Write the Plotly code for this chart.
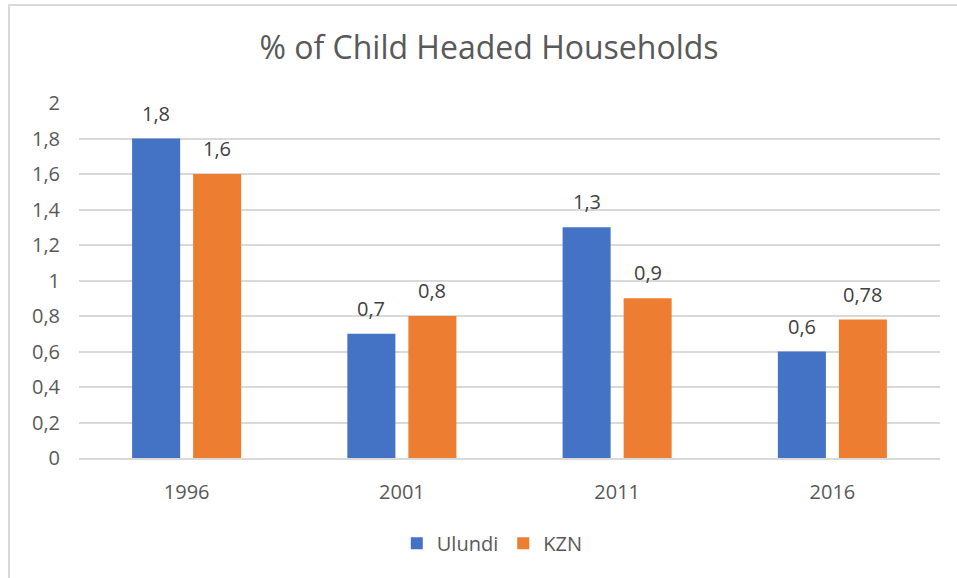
import plotly.graph_objects as go

years = ["1996", "2001", "2011", "2016"]
ulundi = [1.8, 0.7, 1.3, 0.6]
kzn = [1.6, 0.8, 0.9, 0.78]
series_names = ["Ulundi", "KZN"]
colors = ["#4472C4", "#ED7D31"]
title_text = "% of Child Headed Households"

FONT = "Open Sans"
TEXT_COLOR = "#595959"
FS = 20

fig = go.Figure()
for name, vals, col in zip(series_names, [ulundi, kzn], colors):
    fig.add_trace(go.Bar(
        x=years, y=vals, name=name, marker=dict(color=col, line=dict(width=0)),
    ))

# value labels above each bar (category index positions, offset to each bar of the pair)
annotations = []
for vals, shift in ((ulundi, -30.5), (kzn, 30.5)):
    for i, v in enumerate(vals):
        annotations.append(dict(
            x=i, y=v, xref="x", yref="y", text=str(v).replace(".", ","),
            showarrow=False, xshift=shift, yshift=10, yanchor="bottom",
            font=dict(family=FONT, size=FS, color="#404040"),
        ))

# outer chart frame (top and left edges)
L, R, T, B = 79, 17, 103, 120
W, H = 957, 578
pw, ph = W - L - R, H - T - B
def px_x(px):
    return (px - L) / pw
def px_y(py):
    return (H - B - py) / ph

frame = dict(
    type="path", xref="paper", yref="paper",
    path=f"M {px_x(9)} {px_y(600)} L {px_x(9)} {px_y(5)} L {px_x(1000)} {px_y(5)}",
    line=dict(color="#D9D9D9", width=2),
)

fig.update_layout(
    width=W, height=H,
    margin=dict(l=L, r=R, t=T, b=B),
    paper_bgcolor="white", plot_bgcolor="white",
    separators=",.",
    barmode="group", bargap=0.433, bargroupgap=0.213,
    title=dict(text=title_text, x=0.511, xanchor="center", y=0.917, yanchor="middle",
               font=dict(family=FONT, size=32, color=TEXT_COLOR)),
    font=dict(family=FONT, color=TEXT_COLOR),
    xaxis=dict(type="category", range=[-0.5, 3.5], showgrid=False, showline=True,
               linecolor="#D9D9D9", linewidth=1.5, ticks="", ticklabelstandoff=15,
               tickfont=dict(size=FS, color=TEXT_COLOR)),
    yaxis=dict(range=[0, 2], dtick=0.2, showgrid=True, gridcolor="#D9D9D9", gridwidth=1.5,
               zeroline=False, showline=False, ticks="", ticklabelstandoff=18,
               tickfont=dict(size=FS, color=TEXT_COLOR)),
    legend=dict(orientation="h", x=0.48, xanchor="center", y=-0.24, yanchor="middle",
                font=dict(size=FS, color=TEXT_COLOR), itemwidth=30),
    annotations=annotations,
    shapes=[frame],
)

fig.write_html("out.html")
